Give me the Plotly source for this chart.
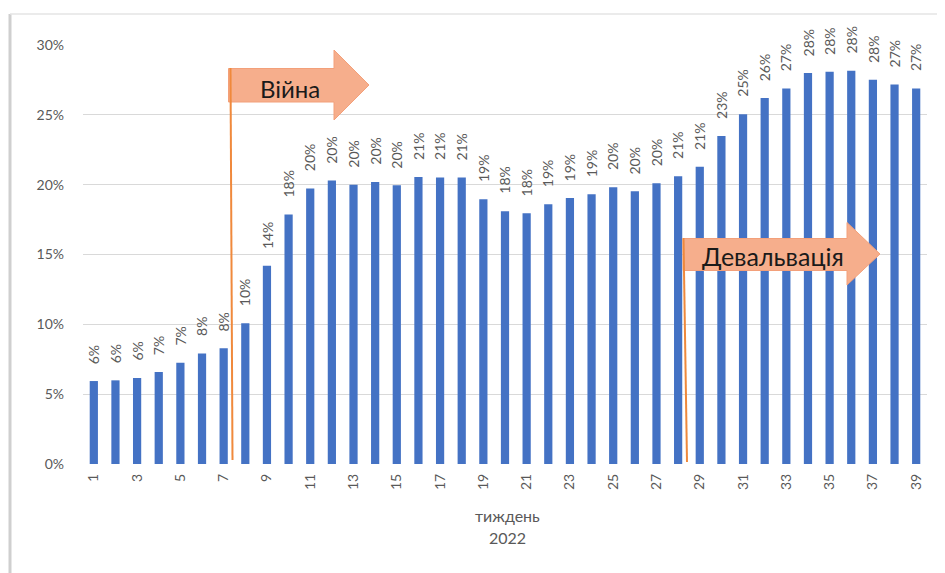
import plotly.graph_objects as go

weeks = list(range(1, 40))
share = [0.0594, 0.0599, 0.0616, 0.0659, 0.0725, 0.0792, 0.0828, 0.1007, 0.1420, 0.1787,
         0.1973, 0.2030, 0.2000, 0.2019, 0.1995, 0.2054, 0.2052, 0.2052, 0.1896, 0.1810,
         0.1795, 0.1859, 0.1904, 0.1931, 0.1981, 0.1953, 0.2010, 0.2060, 0.2128, 0.2348,
         0.2505, 0.2620, 0.2689, 0.2800, 0.2808, 0.2815, 0.2752, 0.2718, 0.2689]
tick_vals = list(range(1, 40, 2))
y_ticks = [0, 0.05, 0.10, 0.15, 0.20, 0.25, 0.30]
event_labels = ["Війна", "Девальвація"]

OFF = 8  # page body margin
W, H = 945 - OFF, 573 - OFF
L, R, T, B = 83 - OFF, 945 - 927, 45 - OFF, 573 - 464
PW, PH = W - L - R, H - T - B
FONT = "Lato, sans-serif"
GREY = "#595959"

def px(x):
    return (x - OFF - L) / PW

def py(y):
    return (H - B - (y - OFF)) / PH

fig = go.Figure()
fig.add_trace(go.Bar(
    x=weeks, y=share,
    marker=dict(color="#4472C4", line=dict(width=0)),
    hoverinfo="skip",
))

def arrow(x0, ytop, ybot, xh, htop, hbot, xtip, ytip):
    path = (f"M {px(x0)},{py(ytop)} L {px(xh)},{py(ytop)} L {px(xh)},{py(htop)} "
            f"L {px(xtip)},{py(ytip)} L {px(xh)},{py(hbot)} L {px(xh)},{py(ybot)} "
            f"L {px(x0)},{py(ybot)} Z")
    return dict(type="path", xref="paper", yref="paper", path=path,
                fillcolor="#F6AE8C", line=dict(color="#F3A07A", width=1), layer="above")

shapes = [
    dict(type="line", xref="paper", yref="paper", x0=px(10), x1=px(10), y0=py(14), y1=py(573),
         line=dict(color="#cfcfcf", width=3), layer="below"),
    dict(type="line", xref="paper", yref="paper", x0=px(10), x1=px(945), y0=py(14), y1=py(14),
         line=dict(color="#e4e4e4", width=1.5), layer="below"),
    arrow(228.5, 68.5, 102, 334, 50, 120, 369, 85),
    dict(type="line", xref="paper", yref="paper", x0=px(230.5), x1=px(232.5), y0=py(68), y1=py(460),
         line=dict(color="#F0893C", width=2), layer="above"),
    arrow(683, 238.5, 270.5, 847, 222.5, 285, 880, 254),
    dict(type="line", xref="paper", yref="paper", x0=px(683.5), x1=px(687), y0=py(238), y1=py(462),
         line=dict(color="#F0893C", width=2), layer="above"),
]

annotations = [
    dict(x=w, y=v, xref="x", yref="y", text=f"{int(v * 100 + 0.5)}%", showarrow=False,
         textangle=-90, xanchor="center", yanchor="bottom", yshift=15,
         font=dict(family=FONT, size=14, color=GREY))
    for w, v in zip(weeks, share)
]
annotations += [
    dict(xref="paper", yref="paper", x=px(290), y=py(88), text=event_labels[0], showarrow=False,
         font=dict(family=FONT, size=24, color="#1a1a1a"), xanchor="center", yanchor="middle"),
    dict(xref="paper", yref="paper", x=px(773), y=py(256), text=event_labels[1], showarrow=False,
         font=dict(family=FONT, size=25, color="#1a1a1a"), xanchor="center", yanchor="middle"),
    dict(xref="paper", yref="paper", x=px(507), y=py(515), text="тиждень", showarrow=False,
         font=dict(family=FONT, size=16, color=GREY), xanchor="center", yanchor="middle"),
    dict(xref="paper", yref="paper", x=px(507), y=py(537), text="2022", showarrow=False,
         font=dict(family=FONT, size=16, color=GREY), xanchor="center", yanchor="middle"),
]

fig.update_layout(
    width=W, height=H,
    margin=dict(l=L, r=R, t=T, b=B, pad=0),
    paper_bgcolor="white", plot_bgcolor="white",
    bargap=0.62, showlegend=False,
    shapes=shapes, annotations=annotations,
    font=dict(family=FONT, color=GREY),
)
fig.update_xaxes(range=[0.5, 39.5], tickmode="array", tickvals=tick_vals, tickangle=-90,
                 showgrid=False, zeroline=False, showline=False, ticks="",
                 ticklabelstandoff=6,
                 tickfont=dict(size=14, color=GREY))
fig.update_yaxes(range=[0, 0.30], tickmode="array", tickvals=y_ticks, tickformat=".0%",
                 showgrid=True, gridcolor="#d9d9d9", gridwidth=1, zeroline=False,
                 showline=False, ticks="", ticklabelstandoff=18,
                 tickfont=dict(size=14, color=GREY))

fig.write_html("out.html")
